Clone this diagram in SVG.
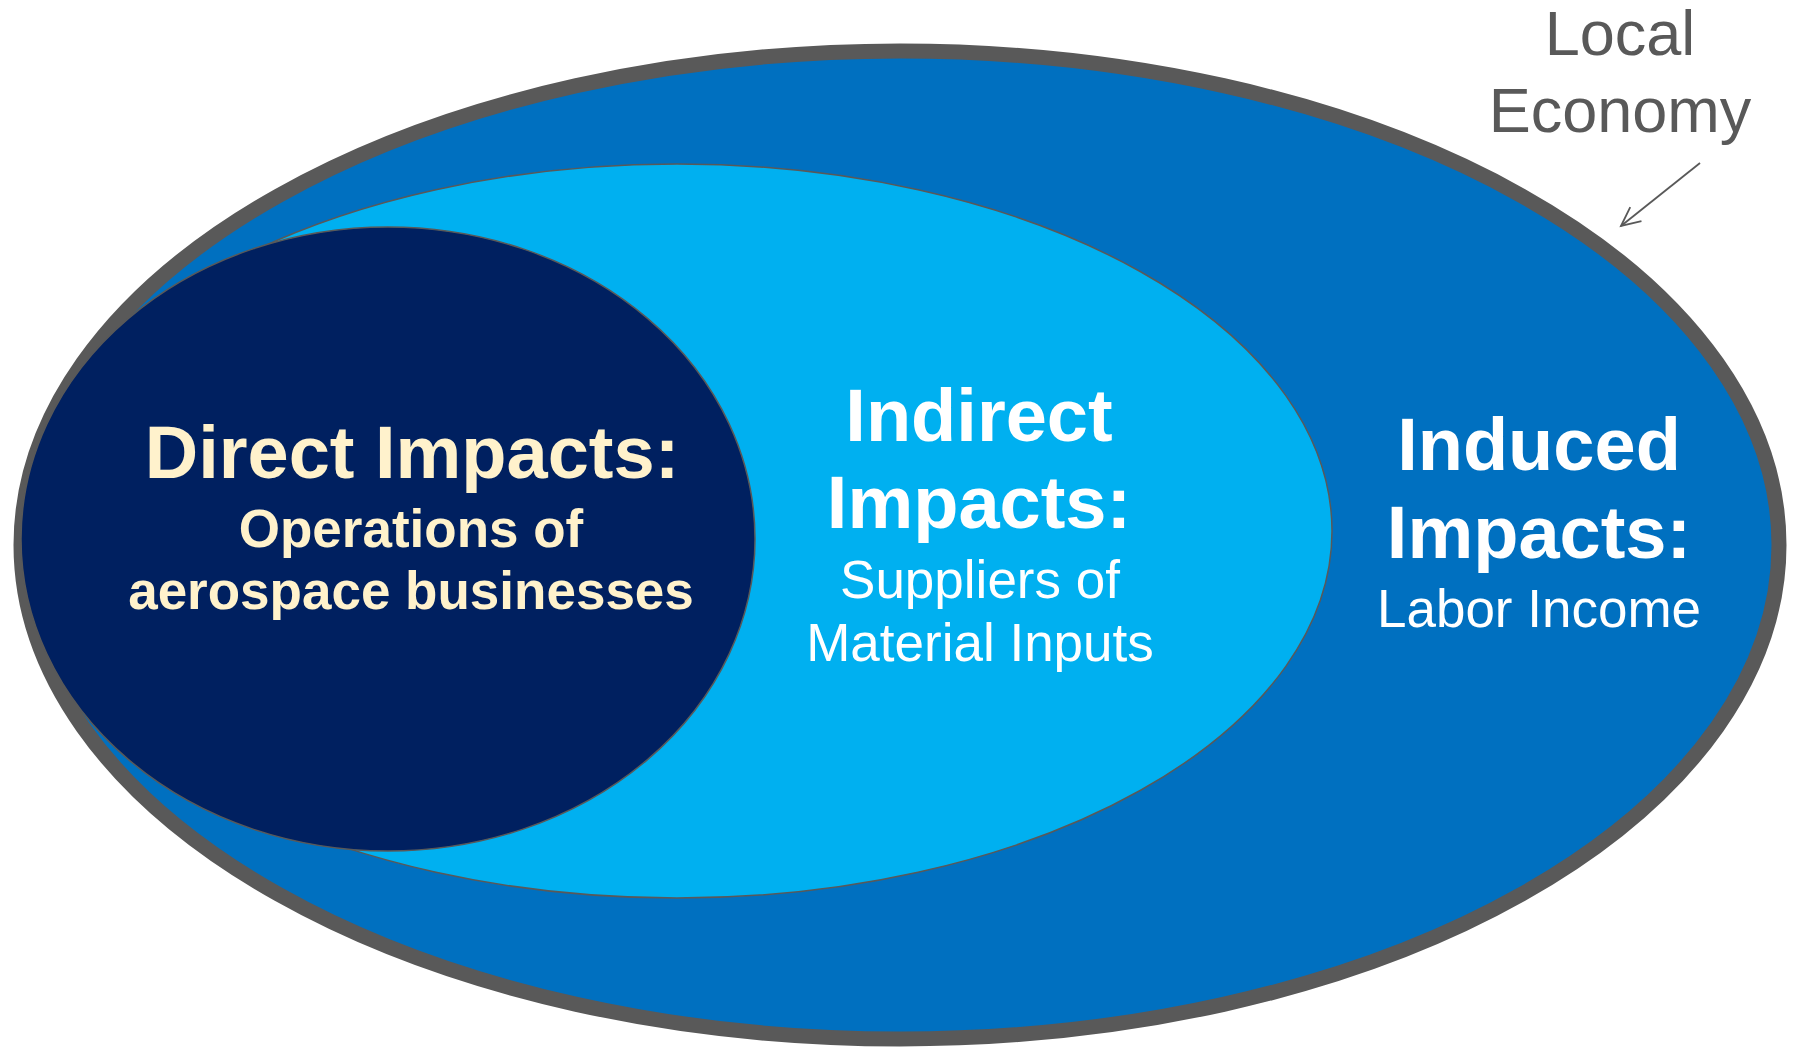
<svg xmlns="http://www.w3.org/2000/svg" width="1793" height="1049" viewBox="0 0 1793 1049">
<style>
.b{font-family:"Liberation Sans",Arial,sans-serif;font-weight:bold;text-anchor:middle}
.r{font-family:"Liberation Sans",Arial,sans-serif;text-anchor:middle}
.w{fill:#ffffff}
.c{fill:#fff2cc}
</style>
<defs>
<marker id="arr" markerWidth="24" markerHeight="24" refX="21" refY="12" orient="auto" markerUnits="userSpaceOnUse">
<path d="M2,3 L21,12 L2,21" fill="none" stroke="#595959" stroke-width="1.8"/>
</marker>
</defs>
<rect width="1793" height="1049" fill="#ffffff"/>
<g id="local-economy">
<ellipse cx="900" cy="545" rx="879" ry="494" fill="#0070c0" stroke="#595959" stroke-width="15"/>
<text class="b w" x="1539" y="470" font-size="74">Induced</text>
<text class="b w" x="1539" y="558" font-size="74">Impacts:</text>
<text class="r w" x="1539" y="627" font-size="53">Labor Income</text>
</g>
<g id="indirect">
<ellipse cx="677" cy="531" rx="655" ry="367" fill="#00b0f0" stroke="#595959" stroke-width="1.5"/>
<text class="b w" x="979" y="441" font-size="74">Indirect</text>
<text class="b w" x="979" y="528" font-size="74">Impacts:</text>
<text class="r w" x="980" y="598" font-size="53">Suppliers of</text>
<text class="r w" x="980" y="661" font-size="53">Material Inputs</text>
</g>
<g id="direct">
<ellipse cx="388" cy="539" rx="367" ry="312" fill="#002060" stroke="#595959" stroke-width="1.5"/>
<text class="b c" x="412" y="478" font-size="74">Direct Impacts:</text>
<text class="b c" x="411" y="547" font-size="53">Operations of</text>
<text class="b c" x="411" y="609" font-size="53">aerospace businesses</text>
</g>
<g id="label">
<text class="r" x="1620" y="55" font-size="63" fill="#595959">Local</text>
<text class="r" x="1620" y="132" font-size="63" fill="#595959">Economy</text>
</g>
<g id="connectors">
<line x1="1700" y1="163" x2="1621" y2="226" stroke="#595959" stroke-width="1.8" marker-end="url(#arr)"/>
</g>
</svg>
